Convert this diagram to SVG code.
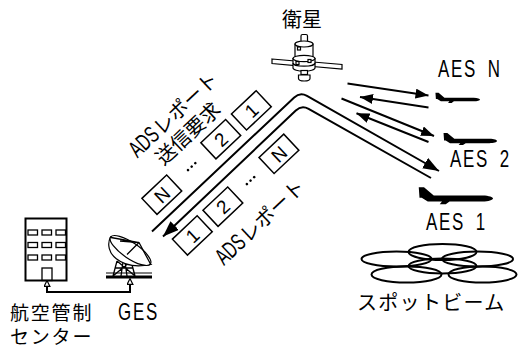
<svg xmlns="http://www.w3.org/2000/svg" xmlns:xlink="http://www.w3.org/1999/xlink" width="518" height="349" viewBox="0 0 518 349">
  <style>
    .ln{fill:none;stroke:#000;stroke-width:2}
    .thin{fill:none;stroke:#000;stroke-width:1.3}
    .box{fill:#fff;stroke:#000;stroke-width:1.5}
    .part{fill:#fff;stroke:#000;stroke-width:1.2}
    .jp{font-family:"Noto Sans CJK JP","Noto Sans CJK SC",sans-serif;font-size:20px;fill:#000}
    .jps{font-family:"Noto Sans CJK JP","Noto Sans CJK SC",sans-serif;font-size:19px;letter-spacing:1.8px;fill:#000}
    .lat{font-family:"Liberation Sans",Arial,sans-serif;font-size:23.5px;fill:#000}
    .cond{font-family:"Liberation Sans",Arial,sans-serif;font-size:23.5px;fill:#000;letter-spacing:2.4px;word-spacing:6px}
    .num{font-family:"Liberation Sans",Arial,sans-serif;font-size:19px;fill:#000}
    .beam{fill:none;stroke:#000;stroke-width:2}
  </style>
  <defs>
    <marker id="head" viewBox="0 0 16 12" refX="16" refY="6" markerWidth="16" markerHeight="12" markerUnits="userSpaceOnUse" orient="auto">
      <path d="M0,0 L16,6 L0,12 Z" fill="#000"/>
    </marker>
    <marker id="headS" viewBox="0 0 13 10" refX="13" refY="5" markerWidth="13" markerHeight="10" markerUnits="userSpaceOnUse" orient="auto">
      <path d="M0,0 L13,5 L0,10 Z" fill="#000"/>
    </marker>
    <marker id="tip" viewBox="0 0 7 7" refX="6" refY="3.5" markerWidth="7" markerHeight="7" markerUnits="userSpaceOnUse" orient="auto-start-reverse">
      <path d="M0.6,0.6 L6.4,3.5 L0.6,6.4 Z" fill="#fff" stroke="#000" stroke-width="1.2"/>
    </marker>
    <!-- aircraft silhouette, 100 units long, nose at +x -->
    <path id="plane" d="M1,-15 L8,-15 L21,-4 L86,-4 C95,-4 100,-1.5 100,0 C100,2 94,4 86,4 L42,4 L37,7.5 L29,7.5 L32,4 L13,4 L5,-1 L2,-1 Z" fill="#000"/>
  </defs>

  <!-- satellite -->
  <g id="satellite">
    <text class="jp" x="302" y="27" text-anchor="middle">衛星</text>
    <polygon class="part" points="272,59 295,61 295,65.5 272,63.5"/>
    <polygon class="part" points="313,62 342,64.5 342,69 313,66.5"/>
    <rect class="part" x="301" y="34.5" width="6.5" height="8" rx="1.5"/>
    <path class="part" d="M295,44 V56 A9,3 0 0 0 313,56 V44 Z"/>
    <ellipse class="part" cx="304" cy="44" rx="9" ry="3"/>
    <path class="part" d="M293,58.5 V68 A11,3.2 0 0 0 315,68 V58.5 Z"/>
    <ellipse class="part" cx="304" cy="58.5" rx="11" ry="3.2"/>
    <path class="thin" d="M293,63 A11,3.2 0 0 0 315,63"/>
    <rect class="part" x="297.5" y="47" width="3" height="3"/>
    <rect class="part" x="308" y="59.5" width="3" height="3"/>
    <rect class="part" x="296" y="61.5" width="3" height="3"/>
    <rect class="part" x="301" y="70.5" width="6.5" height="4"/>
    <path class="part" d="M298.5,75 H310 V78.5 A5.75,2.5 0 0 1 298.5,78.5 Z"/>
  </g>

  <!-- ground station building -->
  <g id="atc-center">
    <rect class="ln" x="25.5" y="218.5" width="41" height="62"/>
    <g class="thin">
      <rect x="28" y="230" width="9.5" height="5"/>
      <rect x="42" y="230" width="9.5" height="5"/>
      <rect x="56" y="230" width="9.5" height="5"/>
      <rect x="28" y="242.5" width="9.5" height="5"/>
      <rect x="42" y="242.5" width="9.5" height="5"/>
      <rect x="56" y="242.5" width="9.5" height="5"/>
      <rect x="28" y="255" width="9.5" height="5"/>
      <rect x="42" y="255" width="9.5" height="5"/>
      <rect x="56" y="255" width="9.5" height="5"/>
      <rect x="42" y="268" width="10" height="12.5"/>
    </g>
    <text class="jps" x="10" y="320">航空管制</text>
    <text class="jps" x="10" y="344">センター</text>
  </g>

  <!-- earth station dish -->
  <g id="ges">
    <path class="thin" d="M113,276 L117,261 M135,276 L131,261 M117,261 L135,276 M131,261 L113,276 M115,268 H133 M121,276 L123,262 M127,276 L125,262"/>
    <rect x="106" y="275.5" width="46" height="3" fill="#000"/>
    <line x1="106" y1="273" x2="152" y2="273" stroke="#000" stroke-width="1"/>
    <path class="part" d="M110.5,237 C103,252 120,271 151,264.5 Z"/>
    <ellipse class="part" cx="130.5" cy="250.5" rx="24" ry="8" transform="rotate(34 130.5 250.5)"/>
    <path class="thin" d="M111,237.5 L139,242.5 L150.5,264 M139,242.5 L127,254.5 M139,242.5 L120,241"/>
    <text class="cond" letter-spacing="1" transform="translate(118,320) scale(0.72,1)">GES</text>
  </g>

  <!-- aircraft -->
  <g id="aes-n">
    <use xlink:href="#plane" transform="translate(435,99.5) scale(0.45)"/>
    <text class="cond" transform="translate(438,77) scale(0.72,1)">AES N</text>
  </g>
  <g id="aes-2">
    <use xlink:href="#plane" transform="translate(443,141) scale(0.54)"/>
    <text class="cond" transform="translate(450,167) scale(0.72,1)">AES 2</text>
  </g>
  <g id="aes-1">
    <use xlink:href="#plane" transform="translate(418,198.5) scale(0.75)"/>
    <text class="cond" transform="translate(426,230) scale(0.72,1)">AES 1</text>
  </g>

  <!-- spot beams -->
  <g id="spot-beams">
    <ellipse class="beam" cx="442.5" cy="252" rx="34" ry="8"/>
    <ellipse class="beam" cx="396.5" cy="259" rx="35" ry="7.5"/>
    <ellipse class="beam" cx="477.5" cy="259" rx="35.5" ry="7.5"/>
    <ellipse class="beam" cx="442.5" cy="266" rx="34" ry="7.5"/>
    <ellipse class="beam" cx="406.5" cy="274.5" rx="35" ry="8"/>
    <ellipse class="beam" cx="482.5" cy="274.5" rx="34" ry="8"/>
    <text class="jp" x="357" y="310" letter-spacing="1.3">スポットビーム</text>
  </g>

  <!-- links -->
  <g id="connectors">
    <path class="ln" d="M152,231.5 L294.2,97.5 Q300,92 307,95.9 L439,171" marker-end="url(#head)"/>
    <path class="ln" d="M431,178 L308.6,108.9 Q301.6,105 295.8,110.5 L163,236.5" marker-end="url(#head)"/>
    <line class="ln" x1="347.5" y1="83.5" x2="428.5" y2="95.5" marker-end="url(#headS)"/>
    <line class="ln" x1="428.5" y1="107.5" x2="360" y2="97" marker-end="url(#headS)"/>
    <line class="ln" x1="341.5" y1="98.5" x2="434" y2="136" marker-end="url(#headS)"/>
    <line class="ln" x1="428.5" y1="142" x2="356.5" y2="113.3" marker-end="url(#headS)"/>
    <path class="ln" d="M47,281 V292 H130 V279" marker-start="url(#tip)" marker-end="url(#tip)"/>
  </g>

  <!-- request message blocks above the uplink path -->
  <g id="request-blocks" transform="translate(300,92) rotate(-43.3)">
    <text class="lat" x="-164" y="-63" textLength="32" lengthAdjust="spacingAndGlyphs">ADS</text>
    <text class="jp" x="-131" y="-63">レポート</text>
    <text class="jp" x="-110" y="-39.5" text-anchor="middle">送信要求</text>
    <rect class="box" x="-65" y="-31" width="34" height="22"/>
    <text class="num" x="-48" y="-13" text-anchor="middle">1</text>
    <rect class="box" x="-107" y="-31" width="34" height="22"/>
    <text class="num" x="-90" y="-13" text-anchor="middle">2</text>
    <circle cx="-135" cy="-20" r="1.3"/><circle cx="-130" cy="-20" r="1.3"/><circle cx="-125" cy="-20" r="1.3"/>
    <rect class="box" x="-188" y="-31" width="34" height="22"/>
    <text class="num" x="-171" y="-13" text-anchor="middle">N</text>
  </g>

  <!-- report message blocks below the downlink path -->
  <g id="report-blocks" transform="translate(301.6,105) rotate(-43.3)">
    <rect class="box" x="-67" y="9" width="34" height="22"/>
    <text class="num" x="-50" y="27" text-anchor="middle">N</text>
    <circle cx="-94" cy="20" r="1.3"/><circle cx="-89" cy="20" r="1.3"/><circle cx="-84" cy="20" r="1.3"/>
    <rect class="box" x="-144" y="9" width="34" height="22"/>
    <text class="num" x="-127" y="27" text-anchor="middle">2</text>
    <rect class="box" x="-186" y="9" width="34" height="22"/>
    <text class="num" x="-169" y="27" text-anchor="middle">1</text>
    <text class="lat" x="-167" y="64" textLength="32" lengthAdjust="spacingAndGlyphs">ADS</text>
    <text class="jp" x="-134" y="64">レポート</text>
  </g>
</svg>
